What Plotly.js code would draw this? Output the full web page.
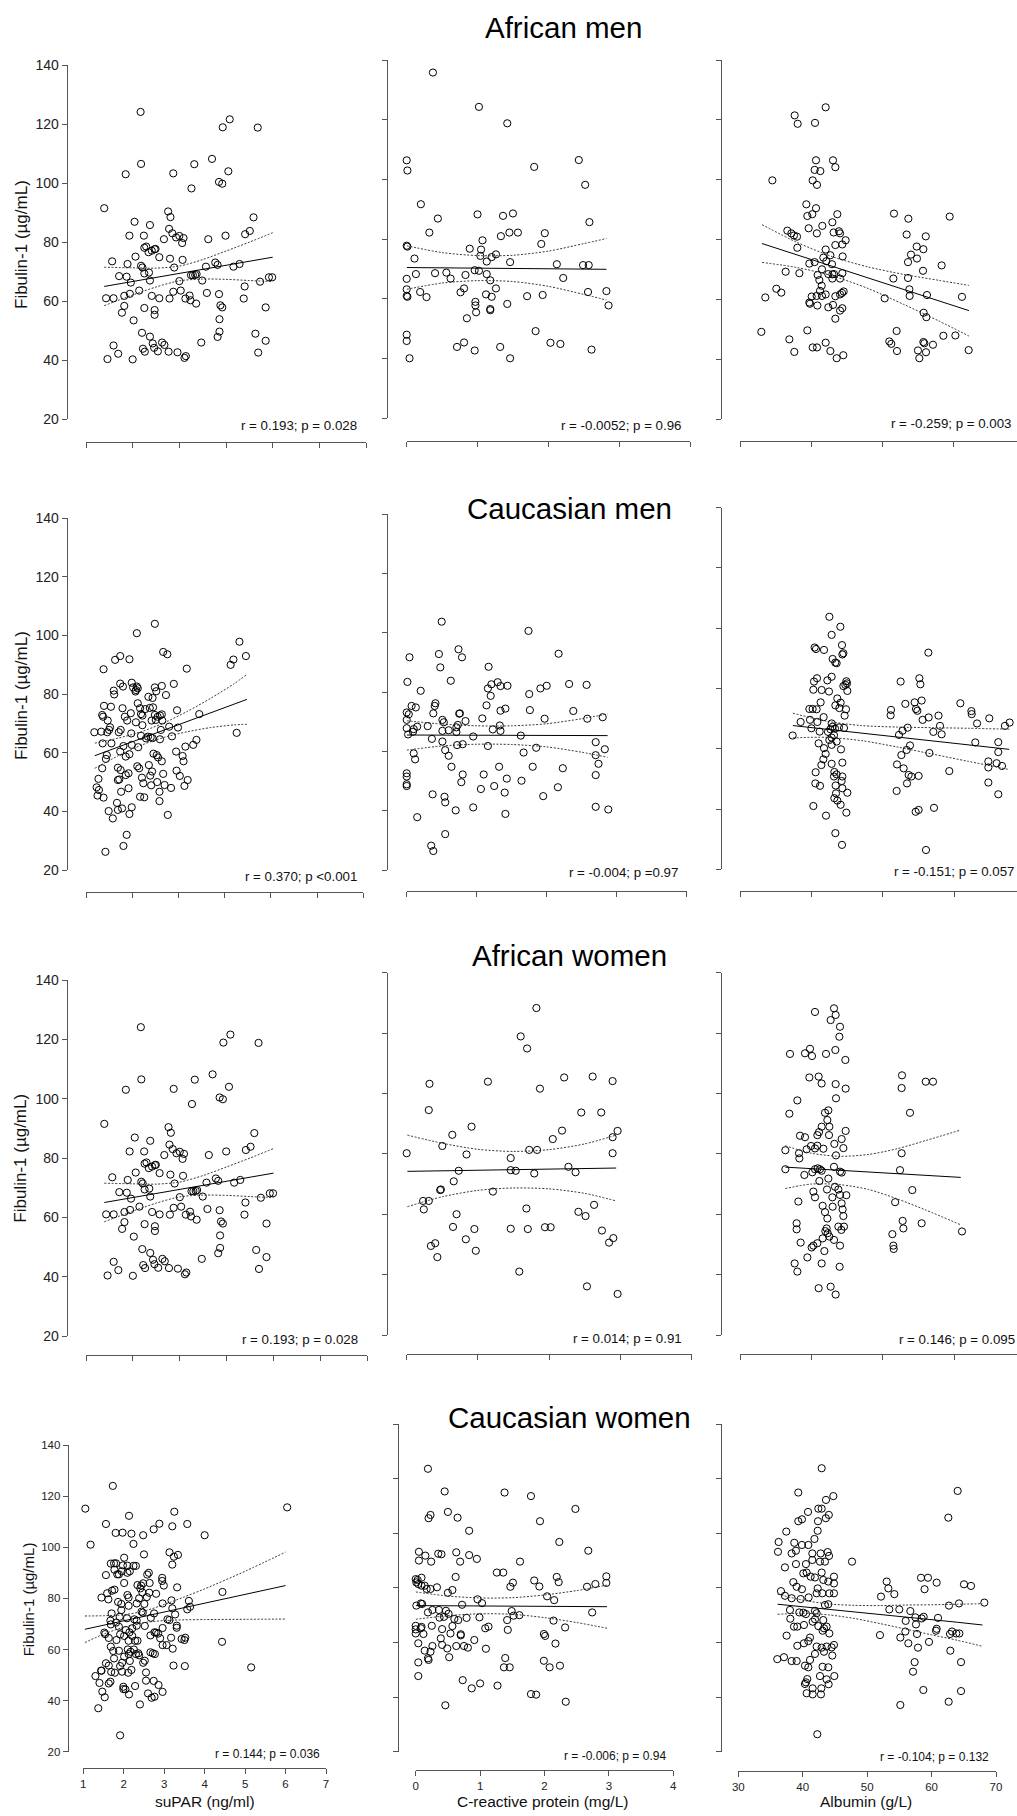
<!DOCTYPE html>
<html><head><meta charset="utf-8">
<script src="https://cdn.plot.ly/plotly-3.0.1.min.js"></script>
<style>html,body{margin:0;padding:0;background:#fff}#chart{width:1017px;height:1816px}</style>
</head><body><div id="chart"></div>
<script>
// ---------- data: [x, Fibulin-1] pairs ----------
const AM_suPAR = [[1.39,91.5],[2.17,124.1],[2.18,106.5],[1.85,103.0],[3.26,98.2],[3.32,106.4],[2.87,103.3],[3.70,108.2],[3.93,118.9],[4.08,121.6],[4.68,118.8],[4.05,104.0],[3.85,100.4],[3.92,99.8],[2.76,90.4],[2.81,88.5],[2.04,86.9],[2.37,85.8],[1.93,82.2],[2.24,82.2],[2.78,84.5],[2.85,83.0],[2.93,81.6],[3.00,82.1],[3.09,81.4],[3.06,79.7],[2.67,81.0],[3.62,81.0],[3.99,82.2],[4.59,88.4],[4.51,83.8],[4.41,82.7],[2.29,78.5],[2.34,76.6],[2.41,77.1],[2.47,77.6],[2.49,77.7],[2.25,78.1],[2.06,75.1],[2.57,74.9],[2.80,74.4],[3.07,74.0],[1.56,73.5],[1.89,72.6],[2.18,72.0],[2.21,71.4],[2.35,69.7],[2.89,71.4],[2.25,69.4],[3.77,73.1],[3.82,72.3],[3.57,71.7],[4.16,71.7],[4.29,72.6],[1.71,68.5],[1.87,68.3],[1.96,66.3],[2.37,67.0],[3.00,66.8],[3.25,68.8],[3.29,68.8],[3.34,68.9],[3.37,69.2],[3.49,67.0],[4.40,65.0],[4.73,66.6],[4.92,68.1],[4.99,68.1],[2.14,63.6],[1.94,62.5],[1.82,61.8],[1.43,61.0],[1.59,61.0],[2.41,61.8],[2.57,61.0],[2.79,60.9],[2.87,63.2],[3.03,63.6],[3.22,61.9],[3.13,60.9],[3.24,60.3],[3.36,59.2],[3.59,62.8],[3.85,62.4],[4.38,60.9],[1.82,58.4],[1.77,56.1],[2.25,57.7],[2.47,57.0],[2.47,55.4],[3.88,58.6],[3.92,57.9],[3.86,53.9],[4.85,57.9],[2.02,53.5],[3.86,49.7],[3.82,47.9],[4.63,49.0],[4.85,46.6],[2.20,49.3],[2.37,48.0],[2.43,45.7],[2.46,44.2],[2.63,46.0],[2.68,45.2],[3.47,46.0],[1.59,45.0],[1.69,42.2],[2.22,43.9],[2.26,42.9],[2.54,43.0],[2.77,42.9],[2.96,42.7],[3.14,41.4],[3.11,40.8],[1.46,40.4],[2.00,40.3],[4.69,42.6]];
const AM_CRP = [[0.37,135.8],[1.02,124.3],[1.42,118.8],[0.00,106.4],[0.01,103.0],[1.80,104.2],[2.43,106.5],[2.52,98.2],[0.20,91.7],[0.44,86.9],[1.00,88.3],[1.36,87.8],[1.50,88.6],[2.58,85.7],[0.32,82.2],[1.33,81.0],[1.45,82.2],[1.57,82.2],[1.95,82.0],[0.00,77.8],[0.01,77.5],[1.07,79.6],[1.90,78.4],[0.89,76.8],[1.05,76.5],[0.11,73.5],[1.04,74.4],[1.20,74.0],[1.26,74.9],[1.13,72.5],[1.46,72.3],[2.12,71.6],[2.49,71.3],[2.57,71.3],[0.13,68.3],[0.40,68.6],[0.56,68.8],[0.62,66.8],[0.83,68.0],[0.96,69.6],[1.02,69.4],[1.13,68.3],[1.18,66.2],[0.00,66.7],[2.21,67.0],[0.00,63.2],[0.00,61.0],[0.01,60.7],[0.19,62.3],[0.28,60.6],[0.76,62.2],[0.81,63.5],[1.26,63.5],[1.12,61.5],[1.20,60.7],[1.70,60.9],[1.92,61.3],[2.56,62.3],[2.82,62.6],[2.85,57.8],[1.42,58.3],[0.97,59.0],[0.97,57.8],[0.98,55.5],[1.18,56.6],[1.18,56.2],[0.85,53.5],[1.82,49.2],[0.00,48.0],[0.00,45.9],[0.04,40.1],[0.71,43.9],[0.81,45.4],[0.96,42.7],[1.32,43.9],[1.46,40.1],[2.03,45.3],[2.17,44.9],[2.61,43.0]];
const AM_Alb = [[42.05,124.2],[37.69,121.5],[38.11,118.7],[40.55,119.0],[34.55,99.8],[40.69,106.5],[43.08,106.5],[43.41,104.2],[40.50,103.3],[41.30,102.9],[40.22,99.8],[40.83,98.3],[39.33,91.8],[40.69,90.5],[39.47,87.9],[40.17,88.5],[43.69,88.5],[42.99,85.8],[41.58,84.6],[39.66,83.8],[40.81,82.1],[36.66,83.0],[37.22,82.1],[37.59,81.4],[38.02,81.0],[38.06,77.3],[43.17,82.4],[43.92,82.8],[44.07,82.1],[44.86,79.8],[44.39,78.4],[43.41,78.2],[42.05,76.7],[42.71,74.8],[41.72,74.0],[44.44,74.4],[39.75,72.0],[40.50,72.5],[42.14,72.8],[42.94,71.8],[36.42,69.3],[38.35,68.8],[41.53,70.1],[40.92,68.2],[42.42,68.5],[42.99,68.4],[43.22,68.5],[44.39,68.8],[44.07,67.0],[42.99,67.0],[41.16,66.5],[41.49,64.6],[35.11,63.6],[35.81,62.3],[41.25,62.9],[42.05,61.7],[41.53,61.2],[40.78,61.2],[40.08,61.0],[43.41,61.1],[44.35,62.2],[44.58,62.7],[44.07,61.7],[33.56,60.7],[39.75,59.0],[39.84,58.6],[40.88,58.0],[42.42,57.4],[43.08,58.2],[44.39,57.1],[44.07,56.3],[43.41,53.6],[33.00,49.2],[39.47,49.7],[36.94,46.7],[37.64,42.5],[40.22,44.0],[40.83,44.0],[42.05,45.6],[42.71,42.8],[43.60,40.4],[44.53,41.4],[51.66,88.7],[53.68,87.0],[59.49,87.7],[53.44,81.7],[56.13,81.1],[54.85,77.7],[55.79,76.8],[54.05,75.0],[54.89,73.7],[53.63,72.5],[58.36,71.4],[55.74,69.6],[51.57,67.0],[53.63,67.2],[53.82,63.4],[53.86,61.2],[56.30,61.5],[50.35,60.4],[61.22,60.9],[55.83,55.6],[56.21,54.1],[52.03,49.5],[58.60,47.9],[60.29,48.0],[51.00,46.0],[51.28,45.2],[52.08,42.8],[55.03,43.0],[55.79,45.8],[55.93,45.4],[57.14,44.9],[56.16,42.4],[55.22,40.4],[62.16,43.1]];
const CM_suPAR = [[2.49,104.0],[2.10,100.8],[4.32,97.9],[4.46,93.0],[4.19,91.8],[4.13,90.0],[1.74,93.0],[1.63,91.7],[1.94,91.9],[2.67,94.4],[2.76,93.6],[1.38,88.5],[3.18,88.7],[1.74,83.6],[1.80,82.6],[1.99,83.9],[2.02,82.3],[2.08,81.4],[2.12,82.0],[2.10,82.6],[2.07,80.9],[1.60,81.2],[1.61,79.9],[2.49,82.3],[2.52,81.0],[2.64,82.8],[2.90,83.5],[2.73,79.7],[2.35,79.1],[2.44,78.7],[2.12,76.9],[1.39,76.0],[1.54,75.7],[1.79,75.2],[2.17,75.2],[2.28,74.9],[2.38,75.3],[2.45,75.5],[2.97,74.5],[3.45,73.2],[1.97,73.5],[2.19,73.2],[2.22,72.7],[2.49,72.9],[2.55,72.3],[2.60,72.7],[2.64,73.1],[1.37,72.3],[1.35,72.9],[1.84,72.3],[1.89,71.0],[1.47,71.0],[2.08,70.4],[2.42,71.0],[2.51,71.2],[2.65,71.0],[2.22,69.4],[1.18,67.0],[1.33,67.2],[1.46,67.0],[1.50,67.8],[1.52,68.7],[1.71,67.0],[1.75,67.8],[1.98,66.6],[2.19,65.8],[2.30,64.9],[2.34,65.5],[2.40,65.3],[2.44,65.0],[2.60,64.6],[2.62,67.8],[2.80,68.9],[2.86,65.6],[2.99,68.6],[1.36,63.2],[1.55,63.2],[1.81,62.3],[1.99,62.7],[2.13,61.9],[3.15,62.1],[3.32,62.7],[3.39,64.4],[1.45,59.2],[1.43,57.9],[1.74,60.4],[1.86,58.7],[1.94,59.5],[2.46,59.7],[2.53,59.2],[2.56,58.4],[2.64,57.1],[2.95,60.4],[3.09,58.9],[3.11,57.1],[1.35,54.7],[1.69,54.9],[1.75,54.1],[2.11,55.4],[2.15,54.7],[2.21,51.5],[2.36,55.8],[2.43,53.6],[2.39,52.2],[2.67,52.8],[2.96,53.9],[3.03,52.1],[3.20,50.7],[3.13,48.7],[1.27,51.1],[1.69,50.7],[1.72,50.9],[1.92,53.0],[1.86,52.4],[2.24,49.6],[2.54,50.0],[2.70,49.0],[2.84,48.0],[2.41,48.9],[1.23,48.2],[1.28,47.3],[1.25,45.4],[1.38,44.7],[1.76,46.7],[1.92,47.9],[2.59,46.7],[2.17,45.0],[2.26,44.8],[2.59,43.5],[1.67,42.9],[1.49,40.1],[1.58,37.6],[1.69,40.5],[1.78,41.0],[1.94,39.1],[1.99,41.4],[2.77,38.8],[1.88,32.0],[1.81,28.2],[1.42,26.2],[4.26,66.8]];
const CM_CRP = [[0.50,103.7],[1.74,100.6],[0.04,91.7],[0.46,92.8],[0.74,94.4],[0.79,91.7],[0.48,88.3],[1.17,88.5],[2.17,92.9],[0.01,83.4],[0.63,83.8],[0.20,80.4],[1.16,81.2],[1.21,82.6],[1.30,83.3],[1.34,82.0],[1.44,82.1],[1.20,78.7],[1.75,79.3],[1.91,81.2],[2.00,82.1],[2.32,82.7],[2.57,82.4],[0.07,75.3],[0.13,74.8],[0.00,73.1],[0.03,72.5],[0.00,70.6],[0.00,67.8],[0.02,65.7],[0.10,67.5],[0.15,68.3],[0.09,66.6],[0.41,76.2],[0.40,75.3],[0.38,72.8],[0.75,72.7],[0.76,72.8],[1.14,75.5],[1.34,73.7],[1.41,74.4],[1.76,73.9],[2.38,73.6],[0.30,68.5],[0.51,70.6],[0.53,69.8],[0.51,66.9],[0.60,67.1],[0.71,68.1],[0.73,68.9],[0.71,66.5],[0.84,70.2],[1.08,71.1],[1.23,67.4],[1.33,68.7],[1.34,66.9],[1.97,71.0],[2.58,71.0],[2.80,71.5],[0.36,64.2],[0.51,63.3],[0.95,65.0],[1.63,65.3],[0.72,62.1],[0.80,62.4],[1.16,61.8],[1.85,61.2],[0.55,60.4],[0.10,59.3],[1.67,59.6],[2.70,63.1],[0.12,57.3],[0.60,58.5],[2.70,58.7],[2.83,60.7],[2.74,55.8],[0.64,54.8],[1.32,54.8],[1.80,54.8],[2.23,54.3],[0.00,52.6],[0.00,51.5],[0.00,48.9],[0.00,48.3],[0.80,52.2],[0.78,49.6],[1.10,52.2],[1.43,50.8],[1.64,50.1],[1.25,48.3],[1.40,46.1],[1.06,47.3],[2.16,47.9],[1.95,44.9],[2.70,52.0],[0.37,45.5],[0.54,44.7],[0.55,42.8],[0.70,40.1],[0.95,41.1],[1.41,38.9],[2.70,41.3],[2.88,40.4],[0.15,37.8],[0.55,32.1],[0.35,28.2],[0.38,26.4]];
const CM_Alb = [[42.51,103.8],[44.05,100.5],[42.83,97.8],[44.28,94.4],[40.45,93.6],[40.64,93.1],[41.76,92.8],[44.47,91.7],[44.33,91.3],[42.97,89.8],[43.34,88.6],[43.53,88.4],[40.78,83.4],[40.36,82.3],[40.27,79.6],[41.43,79.5],[42.23,82.7],[42.83,83.9],[42.46,79.0],[44.89,82.4],[44.98,81.7],[44.75,81.2],[44.47,80.8],[45.03,79.2],[43.62,76.7],[44.09,75.3],[44.84,73.1],[43.35,74.4],[43.91,73.5],[41.29,75.4],[39.71,73.2],[40.17,73.2],[40.73,73.1],[41.71,70.5],[44.65,71.0],[38.49,68.9],[39.80,69.6],[40.83,68.9],[40.00,66.8],[41.15,65.7],[42.83,68.4],[42.97,67.3],[43.30,66.7],[42.65,66.5],[43.86,67.1],[44.56,66.9],[42.32,65.6],[43.16,64.5],[42.83,63.7],[42.51,62.9],[43.53,62.4],[37.37,64.4],[41.01,61.8],[41.76,60.2],[41.99,58.3],[44.14,59.8],[42.83,61.3],[41.67,56.5],[41.39,54.6],[42.83,55.0],[44.33,55.4],[40.59,52.2],[43.21,52.3],[43.53,51.5],[43.16,50.8],[44.33,50.8],[44.23,49.3],[40.55,48.5],[41.20,47.7],[43.39,47.8],[44.33,46.9],[45.03,45.4],[43.44,45.2],[43.21,43.6],[43.63,42.8],[44.09,41.4],[40.27,41.0],[42.04,37.8],[44.89,38.8],[43.35,32.0],[44.28,28.1],[56.37,91.9],[52.49,82.3],[55.11,83.4],[55.25,81.4],[55.43,76.0],[54.45,75.4],[53.15,74.9],[54.64,73.2],[54.83,72.6],[51.14,72.9],[51.09,71.1],[60.85,75.1],[62.39,72.5],[62.44,71.5],[56.41,70.4],[55.57,69.6],[57.79,71.0],[63.19,68.4],[64.90,70.1],[67.75,68.7],[67.09,67.6],[53.47,67.0],[52.76,66.0],[52.26,64.6],[58.00,67.6],[57.07,65.6],[58.23,64.8],[53.80,61.1],[53.33,59.6],[56.51,58.6],[52.59,57.9],[62.94,62.1],[66.16,62.2],[66.16,58.9],[64.77,55.8],[65.93,55.2],[64.77,53.8],[66.68,54.3],[51.98,54.8],[52.91,53.5],[53.61,51.3],[53.99,50.8],[55.01,51.0],[59.30,52.6],[53.38,48.5],[51.93,46.0],[64.77,48.8],[66.16,44.9],[54.59,39.1],[55.01,39.7],[57.16,40.4],[56.04,26.4]];
// the African women suPAR panel repeats the African men suPAR panel in the source figure
const AW_suPAR = AM_suPAR;
const AW_CRP = [[1.82,128.3],[1.60,118.9],[1.69,114.9],[0.32,103.2],[1.14,103.9],[1.87,101.6],[2.21,105.3],[2.61,105.6],[2.89,104.1],[0.31,94.5],[2.45,93.7],[2.73,93.7],[0.91,89.0],[0.64,86.3],[0.50,82.6],[2.05,84.9],[2.18,87.7],[2.89,85.5],[2.96,87.6],[0.00,80.2],[0.84,79.8],[1.72,81.3],[1.83,81.3],[2.89,80.2],[1.46,78.6],[0.73,74.4],[1.46,74.6],[1.53,74.4],[1.79,73.5],[2.27,75.7],[2.37,73.9],[0.66,70.9],[0.48,68.2],[0.47,68.0],[1.21,67.5],[0.23,64.4],[0.31,64.4],[0.24,61.6],[0.70,60.0],[1.68,61.9],[2.41,60.8],[2.51,59.4],[2.63,63.1],[0.65,55.8],[0.95,55.1],[1.46,55.2],[1.70,55.1],[1.94,55.7],[2.02,55.7],[2.74,54.6],[0.83,51.7],[0.34,49.5],[0.40,50.4],[0.43,45.8],[0.97,47.9],[2.84,50.6],[2.90,52.1],[1.58,41.0],[2.53,36.1],[2.96,33.6]];
const AW_Alb = [[43.16,128.2],[43.39,126.0],[42.69,124.3],[40.50,127.0],[44.00,122.1],[43.91,118.8],[37.00,113.1],[39.10,113.3],[39.80,114.8],[40.08,112.4],[42.04,113.1],[43.35,114.4],[44.75,111.1],[39.71,105.3],[41.01,105.6],[41.43,103.3],[43.39,103.1],[44.79,101.6],[43.44,98.4],[38.03,97.7],[36.91,93.3],[41.90,93.6],[42.37,94.4],[42.23,91.2],[41.43,89.0],[42.51,89.0],[40.83,86.2],[41.06,87.2],[42.46,86.2],[44.79,87.6],[44.23,84.9],[38.40,86.0],[39.10,85.5],[43.21,83.3],[44.47,81.9],[36.35,81.2],[38.26,80.2],[38.31,78.5],[39.33,81.5],[39.94,82.6],[40.50,81.8],[40.83,82.7],[41.67,81.7],[43.44,79.5],[36.35,74.9],[39.01,73.0],[40.13,73.9],[40.50,74.9],[40.87,75.2],[41.20,74.9],[41.43,74.4],[43.16,75.7],[44.00,74.1],[44.23,73.8],[42.37,71.8],[41.11,71.0],[43.30,69.1],[42.18,68.2],[40.27,67.5],[40.50,65.6],[43.77,68.2],[44.00,66.4],[44.89,66.3],[42.93,65.6],[38.17,64.2],[41.57,62.8],[42.97,62.5],[44.23,63.6],[44.37,61.6],[44.47,59.4],[41.90,60.7],[42.23,58.6],[37.93,57.0],[37.93,55.0],[42.13,55.3],[41.95,54.4],[42.28,53.7],[43.77,55.9],[44.19,54.8],[44.56,55.9],[42.51,52.6],[41.57,52.0],[43.16,51.5],[38.49,50.6],[40.03,49.0],[40.27,49.6],[40.83,50.4],[44.00,49.6],[41.81,47.8],[39.43,45.7],[37.65,43.7],[38.03,41.0],[41.43,43.7],[43.95,42.6],[41.01,35.5],[42.69,36.0],[43.39,33.4],[52.68,106.0],[52.63,101.8],[56.00,103.9],[57.02,103.9],[53.80,93.6],[52.63,80.2],[52.40,74.6],[54.12,68.0],[51.72,64.0],[52.77,57.8],[52.87,55.3],[55.43,57.0],[51.33,53.4],[51.47,49.6],[51.52,48.5],[61.08,54.3]];
const CW_suPAR = [[1.73,124.0],[1.05,115.1],[6.04,115.6],[1.18,101.0],[2.13,112.3],[3.25,113.9],[1.56,109.1],[1.80,105.6],[1.97,105.7],[2.19,105.3],[2.48,104.7],[2.74,107.0],[2.88,109.2],[3.20,108.2],[3.57,109.1],[4.00,104.7],[2.24,101.3],[2.50,97.2],[2.01,95.9],[3.13,98.0],[3.24,96.3],[3.34,97.0],[3.20,93.2],[1.68,93.6],[1.76,93.7],[1.81,93.7],[1.98,92.9],[2.09,92.8],[2.24,92.7],[2.30,92.7],[1.77,91.2],[1.95,90.6],[2.09,90.0],[2.15,90.6],[1.56,89.1],[1.84,89.4],[1.88,89.4],[2.58,89.3],[2.62,90.0],[2.95,88.0],[2.95,86.8],[2.99,85.0],[2.01,86.0],[2.64,86.0],[2.09,81.3],[1.71,83.0],[1.77,83.4],[1.59,82.0],[2.34,85.2],[2.43,85.0],[2.48,85.9],[2.41,83.9],[2.46,82.3],[2.63,82.2],[2.80,81.8],[3.32,84.3],[1.45,80.3],[1.62,79.6],[2.12,80.3],[2.38,80.0],[2.57,80.5],[3.18,79.2],[3.61,79.0],[1.86,78.6],[1.94,77.8],[2.12,77.1],[2.32,78.0],[2.51,77.8],[2.96,78.0],[3.64,76.7],[3.57,75.7],[3.20,76.1],[4.44,82.5],[1.94,75.4],[2.44,74.8],[2.47,74.4],[2.75,74.1],[1.70,74.1],[3.27,73.7],[1.90,72.8],[2.08,72.2],[2.67,72.4],[1.67,71.3],[3.08,71.8],[3.13,71.5],[2.26,71.8],[2.32,71.3],[1.81,70.5],[1.68,69.8],[1.88,68.9],[2.32,69.3],[2.52,69.2],[2.96,68.4],[3.31,69.3],[3.31,68.5],[2.21,68.3],[2.05,67.6],[1.52,66.6],[1.54,66.0],[1.63,64.5],[1.91,65.9],[2.01,65.3],[2.14,66.7],[2.21,65.3],[2.66,65.5],[2.76,66.7],[2.80,66.6],[2.85,66.2],[2.90,64.4],[2.12,63.4],[2.28,63.4],[2.34,63.4],[1.82,63.7],[3.17,64.6],[3.43,64.1],[3.50,63.7],[3.52,64.6],[2.96,61.7],[3.06,61.7],[3.21,60.3],[1.68,61.1],[2.10,60.0],[2.17,59.1],[2.25,60.0],[2.30,58.2],[2.36,58.5],[2.38,57.7],[2.66,58.9],[2.72,58.5],[2.77,58.2],[1.88,59.5],[1.74,59.4],[2.01,57.2],[2.12,58.2],[2.15,55.5],[1.76,56.5],[1.56,54.6],[1.63,53.7],[1.91,53.5],[1.96,54.8],[2.48,54.8],[2.52,55.6],[3.51,53.5],[3.23,53.7],[5.15,53.0],[1.45,51.7],[1.69,51.2],[1.78,50.9],[1.96,51.3],[2.11,50.9],[2.19,52.0],[2.55,51.0],[1.30,49.6],[1.44,51.7],[4.43,63.0],[1.40,46.9],[1.63,46.7],[1.67,47.4],[2.55,47.8],[2.74,47.7],[2.86,46.1],[1.99,45.4],[2.04,44.4],[1.99,44.5],[2.28,45.7],[2.13,42.4],[2.60,42.8],[2.96,43.4],[1.47,43.5],[1.53,41.3],[2.69,41.1],[2.76,41.5],[2.40,38.5],[1.37,37.0],[1.91,26.4]];
const CW_CRP = [[0.19,123.6],[0.45,115.3],[1.38,114.9],[1.79,113.6],[2.48,108.9],[0.50,107.8],[0.23,106.7],[0.20,105.5],[0.65,105.7],[1.93,104.4],[0.83,100.9],[2.23,96.8],[0.05,93.2],[0.15,91.8],[0.35,92.5],[0.40,92.3],[0.63,93.0],[0.83,92.0],[0.95,90.6],[0.05,90.0],[0.24,89.6],[0.69,89.6],[1.62,89.6],[2.68,93.6],[1.26,85.6],[1.36,85.6],[0.62,84.0],[0.00,83.2],[0.03,82.9],[0.09,83.7],[0.01,82.0],[0.04,81.4],[0.09,80.8],[0.14,80.8],[0.23,79.6],[0.17,79.6],[0.33,80.2],[0.57,79.2],[0.50,78.2],[1.51,81.9],[1.47,80.4],[1.84,82.7],[1.92,80.5],[2.19,84.0],[2.22,82.1],[2.66,80.4],[2.79,81.4],[2.96,84.2],[2.96,81.8],[2.04,76.9],[2.15,75.5],[0.96,75.8],[1.03,74.4],[0.72,73.8],[0.01,73.5],[0.08,74.3],[0.10,74.1],[0.26,71.9],[0.19,71.0],[0.36,71.9],[0.47,71.6],[0.51,70.5],[0.44,69.4],[0.37,69.1],[0.60,68.6],[0.66,68.2],[0.79,69.0],[0.99,69.2],[1.49,71.5],[1.52,69.8],[1.61,70.0],[1.42,68.2],[2.14,68.0],[2.74,71.0],[2.32,65.5],[0.25,66.1],[0.00,66.1],[0.00,64.8],[0.00,63.3],[0.08,65.2],[0.09,65.7],[0.12,63.1],[0.41,64.9],[0.54,63.3],[0.70,62.6],[0.57,66.0],[1.08,65.2],[1.13,65.8],[1.43,64.6],[1.99,63.1],[2.01,62.4],[0.39,61.5],[0.41,59.1],[0.49,57.8],[0.63,58.7],[0.70,63.0],[0.75,58.7],[0.81,58.1],[0.91,60.9],[1.09,57.7],[2.17,59.6],[0.04,59.7],[0.14,57.0],[0.26,58.7],[0.23,56.6],[0.19,54.2],[0.20,53.6],[0.52,54.6],[0.04,52.7],[0.04,47.7],[1.39,54.3],[1.37,50.9],[1.46,50.9],[1.99,53.3],[2.08,50.9],[2.24,51.5],[0.73,46.2],[0.87,43.2],[1.00,45.0],[1.27,44.2],[1.79,41.1],[1.87,40.9],[2.33,38.3],[0.46,37.0]];
const CW_Alb = [[42.94,123.8],[39.31,114.9],[44.75,113.6],[43.61,112.2],[42.42,109.0],[42.94,109.0],[40.82,107.8],[44.05,106.7],[43.58,105.5],[39.31,104.4],[39.88,105.1],[42.37,104.4],[42.32,100.9],[37.45,100.6],[41.82,97.9],[36.26,96.8],[38.69,96.5],[36.16,93.2],[38.28,92.6],[38.95,93.6],[39.88,95.7],[40.87,95.7],[41.49,92.6],[42.78,92.6],[44.08,91.7],[43.87,93.1],[43.45,89.6],[42.68,89.6],[41.49,90.2],[37.24,87.5],[38.95,88.7],[40.50,88.7],[40.09,85.3],[40.61,85.6],[41.23,84.1],[41.90,83.8],[42.94,85.6],[43.19,82.9],[43.97,82.3],[44.85,84.1],[44.85,81.6],[38.54,82.1],[39.06,80.4],[39.88,79.5],[36.62,78.8],[37.24,77.1],[38.28,76.2],[39.68,75.9],[40.92,76.5],[42.32,79.8],[42.16,78.0],[43.04,78.0],[44.13,78.0],[44.85,78.0],[43.97,74.0],[43.45,73.7],[38.02,71.9],[39.47,71.0],[40.09,70.9],[40.50,70.4],[41.90,71.6],[42.16,70.7],[38.07,68.7],[38.64,65.8],[39.16,65.8],[40.19,66.4],[41.54,67.6],[41.90,68.5],[42.42,66.0],[43.19,68.2],[43.30,65.2],[43.71,65.8],[44.13,63.3],[43.09,64.3],[37.50,62.5],[41.13,61.8],[40.87,60.5],[40.19,59.7],[39.16,58.8],[42.16,58.5],[42.94,58.1],[43.71,58.5],[44.49,58.2],[44.85,59.1],[41.90,55.8],[43.30,56.6],[44.59,55.2],[36.05,53.9],[37.09,54.6],[38.28,53.2],[39.06,53.2],[40.35,51.5],[40.87,50.9],[41.13,53.6],[43.09,51.1],[43.97,50.9],[40.71,46.6],[40.50,45.4],[42.68,47.7],[43.71,46.5],[44.90,47.7],[40.35,44.8],[41.54,43.2],[42.89,43.2],[44.02,44.7],[40.61,41.4],[41.54,41.0],[42.83,41.0],[42.26,26.4],[47.65,89.6],[53.03,82.3],[53.29,79.8],[54.22,77.7],[52.15,76.8],[58.36,83.7],[59.44,83.7],[60.79,81.9],[58.91,79.5],[65.03,81.3],[66.12,80.7],[53.44,72.1],[54.99,72.1],[56.70,71.5],[62.70,73.5],[64.26,74.3],[68.19,74.6],[55.98,67.9],[57.48,69.2],[57.58,66.6],[58.46,68.8],[58.77,69.4],[61.00,69.0],[51.99,62.7],[55.15,61.8],[55.93,64.0],[57.74,63.1],[56.39,59.7],[57.89,58.1],[59.60,60.2],[60.69,64.3],[60.79,65.0],[62.86,63.1],[63.17,64.0],[63.84,63.3],[64.31,63.3],[62.91,57.0],[64.57,52.8],[57.37,52.8],[57.12,49.3],[58.72,42.6],[62.65,38.3],[64.57,42.2],[55.15,37.1],[62.60,105.7],[64.05,115.5]];

// ---------- regression line and 95% band, read at a few x values: [x, fit, upper, lower] ----------
const AM_suPAR_band = [[1.39,65.0,71.5,58.5],[2.0,66.7,71.3,62.1],[2.5,68.0,71.2,64.8],[3.0,69.4,71.9,66.9],[3.5,70.8,74.1,67.5],[4.0,72.2,77.0,67.4],[4.5,73.5,80.0,67.0],[5.0,74.9,83.2,66.6]];
const AM_CRP_band = [[0.0,70.5,77.8,63.2],[0.5,70.4,75.5,65.3],[1.0,70.3,74.5,66.1],[1.5,70.2,74.6,65.8],[2.0,70.1,76.0,64.2],[2.5,70.0,78.5,61.5],[2.82,69.9,80.2,59.6]];
const AM_Alb_band = [[33.1,78.7,85.0,72.4],[38,74.9,79.1,70.7],[43,71.1,74.3,67.9],[48,67.3,70.9,63.7],[53,63.4,68.4,58.4],[58,59.6,66.4,52.8],[62.2,56.3,64.7,47.8]];
const CM_suPAR_band = [[1.19,59.0,63.3,54.7],[1.7,62.0,65.0,59.0],[2.2,64.9,67.2,62.6],[2.7,67.8,70.3,65.3],[3.2,70.7,74.2,67.2],[3.7,73.6,78.6,68.6],[4.2,76.5,83.5,69.5],[4.48,78.2,86.7,69.7]];
const CM_CRP_band = [[0.0,65.5,70.3,60.4],[0.5,65.5,69.2,61.8],[1.0,65.4,68.6,62.4],[1.5,65.4,68.6,62.3],[2.0,65.4,69.3,61.5],[2.5,65.3,71.0,59.7],[2.87,65.3,72.6,58.0]];
const CM_Alb_band = [[37.4,67.7,71.8,63.6],[42,66.5,69.2,63.8],[47,65.2,67.7,62.7],[52,63.9,67.2,60.6],[57,62.6,67.0,58.2],[62,61.3,66.8,55.8],[67.7,59.8,66.5,53.1]];
const AW_suPAR_band = AM_suPAR_band;
const AW_CRP_band = [[0.01,74.2,86.2,62.5],[0.5,74.4,83.5,65.8],[1.0,74.6,81.5,67.9],[1.5,74.8,80.8,68.7],[2.0,74.9,81.4,68.4],[2.5,75.1,83.3,66.9],[2.94,75.3,86.2,64.4]];
const AW_Alb_band = [[36.35,75.6,82.7,68.5],[40,75.1,80.2,70.0],[44,74.5,79.2,69.8],[48,74.0,79.8,68.2],[52,73.4,81.7,65.1],[56,72.9,84.4,61.4],[60.9,72.2,87.9,56.5]];
const CW_suPAR_band = [[1.04,67.9,73.1,62.7],[1.5,69.5,73.2,66.0],[2.0,71.2,73.6,68.7],[2.5,72.9,75.0,70.5],[3.0,74.7,77.6,71.3],[3.5,76.4,80.6,71.6],[4.0,78.1,83.7,71.7],[5.0,81.6,90.6,71.8],[6.0,85.0,98.1,71.9]];
const CW_CRP_band = [[0,73.5,78.5,68.5],[0.5,73.4,77.0,69.8],[1.0,73.4,76.3,70.5],[1.5,73.3,76.4,70.3],[2.0,73.2,77.4,69.1],[2.5,73.2,79.0,67.3],[2.97,73.1,81.0,65.2]];
const CW_Alb_band = [[36.1,74.0,77.7,70.3],[40,73.1,75.5,70.7],[44,72.1,74.1,70.1],[48,71.2,73.6,68.8],[52,70.2,73.5,66.9],[56,69.3,73.7,64.9],[60,68.3,73.8,62.8],[64,67.4,74.0,60.8],[67.9,66.4,74.2,58.6]];

// ---------- text ----------
const groupTitles = ['African men','Caucasian men','African women','Caucasian women'];
const xTitles = ['suPAR (ng/ml)','C-reactive protein (mg/L)','Albumin (g/L)'];
const yTitle = 'Fibulin-1 (µg/mL)';
const statText = [
  ['r = 0.193; p = 0.028','r = -0.0052; p = 0.96','r = -0.259; p = 0.003'],
  ['r = 0.370; p <0.001','r = -0.004; p =0.97','r = -0.151; p = 0.057'],
  ['r = 0.193; p = 0.028','r = 0.014; p = 0.91','r = 0.146; p = 0.095'],
  ['r = 0.144; p = 0.036','r = -0.006; p = 0.94','r = -0.104; p = 0.132']
];
const yTicks = [20,40,60,80,100,120,140];
const xTicks = [[1,2,3,4,5,6,7],[0,1,2,3,4],[30,40,50,60,70]];

const points = [[AM_suPAR,AM_CRP,AM_Alb],[CM_suPAR,CM_CRP,CM_Alb],[AW_suPAR,AW_CRP,AW_Alb],[CW_suPAR,CW_CRP,CW_Alb]];
const bands  = [[AM_suPAR_band,AM_CRP_band,AM_Alb_band],[CM_suPAR_band,CM_CRP_band,CM_Alb_band],[AW_suPAR_band,AW_CRP_band,AW_Alb_band],[CW_suPAR_band,CW_CRP_band,CW_Alb_band]];

// ---------- layout geometry (pixels) ----------
const W = 1017, H = 1816;
const fx = p => p / W, fy = p => 1 - p / H;
const geom = [
  [{x0:86,x1:366,xr:[1,7],yA:66.7,y20:419.3,y140:65,xA:441.5},
   {x0:406.7,x1:690,xr:[0,4],yA:387.3,y20:418.3,y140:60,xA:440.5},
   {x0:740,x1:1017,xr:[30,68.96],yA:720.7,y20:419.3,y140:60,xA:440.7}],
  [{x0:86,x1:363.3,xr:[1,7],yA:66.7,y20:870,y140:518.3,xA:891.7},
   {x0:406.7,x1:686.7,xr:[0,4],yA:387.3,y20:870,y140:514,xA:890.7},
   {x0:740,x1:1017,xr:[30,68.78],yA:720.7,y20:869.3,y140:507.7,xA:890.7}],
  [{x0:86,x1:367.3,xr:[1,7],yA:66.7,y20:1336,y140:980,xA:1355},
   {x0:406.7,x1:691.7,xr:[0,4],yA:387.3,y20:1335,y140:972.7,xA:1354},
   {x0:740,x1:1017,xr:[30,68.78],yA:720.7,y20:1335,y140:972.7,xA:1354}],
  [{x0:83.3,x1:326,xr:[1,7],yA:67.7,y20:1751.7,y140:1445,xA:1768.3},
   {x0:415.7,x1:673.3,xr:[0,4],yA:397.7,y20:1751.7,y140:1424,xA:1770},
   {x0:738.3,x1:996,xr:[30,70],yA:720.7,y20:1751.7,y140:1424,xA:1770.7}]
];
const statPos = [
  [[358.3,425],[683.3,425],[1013.3,423.5]],
  [[358.3,876.7],[679.3,872.7],[1016,871.7]],
  [[359.3,1339.3],[683.3,1338.3],[1016,1339.3]],
  [[320.7,1754],[667.3,1756],[990,1757.3]]
];
const titlePos = [[563.5,27],[569.5,508],[569.7,955],[569.2,1417]];
const yTitlePos = [[21,245,17],[21,696,17],[21,1158.7,17],[28.3,1599,15]];
const xTitlePos = [[204.7,1801.7],[542.5,1801.7],[866,1801.7]];

const FONT = 'Liberation Sans, Arial, Helvetica, sans-serif';
const AXC = '#555';
const traces = [];
const layout = {
  width: W, height: H, margin: {l:0,r:0,t:0,b:0},
  paper_bgcolor: '#fff', plot_bgcolor: 'rgba(0,0,0,0)',
  showlegend: false, font: {family: FONT, color: '#111'},
  annotations: []
};

let n = 0;
for (let r = 0; r < 4; r++) {
  for (let c = 0; c < 3; c++) {
    n++;
    const g = geom[r][c];
    const sx = n === 1 ? '' : String(n);
    const pts = points[r][c], bd = bands[r][c];
    const xref = 'x' + sx, yref = 'y' + sx;
    traces.push({type:'scatter', mode:'markers', x: pts.map(p=>p[0]), y: pts.map(p=>p[1]),
      xaxis: xref, yaxis: yref, cliponaxis: false, hoverinfo: 'skip',
      marker: {symbol:'circle-open', size: 7.2, color:'#000', line:{width:1, color:'#000'}}});
    traces.push({type:'scatter', mode:'lines', x: bd.map(b=>b[0]), y: bd.map(b=>b[1]),
      xaxis: xref, yaxis: yref, line:{color:'#000', width:1}, hoverinfo:'skip'});
    traces.push({type:'scatter', mode:'lines', x: bd.map(b=>b[0]), y: bd.map(b=>b[2]),
      xaxis: xref, yaxis: yref, line:{color:'#222', width:0.9, dash:'2px,1.6px', shape:'spline', smoothing:0.8}, hoverinfo:'skip'});
    traces.push({type:'scatter', mode:'lines', x: bd.map(b=>b[0]), y: bd.map(b=>b[3]),
      xaxis: xref, yaxis: yref, line:{color:'#222', width:0.9, dash:'2px,1.6px', shape:'spline', smoothing:0.8}, hoverinfo:'skip'});

    layout['xaxis' + sx] = {
      domain: [fx(g.x0), fx(g.x1)], range: g.xr, anchor: 'free', position: fy(g.xA),
      showline: true, linecolor: AXC, linewidth: 1, ticks: 'outside', ticklen: 5, tickcolor: AXC, tickwidth: 1,
      tickmode: 'array', tickvals: xTicks[c], showticklabels: r === 3,
      tickfont: {family: FONT, size: 11.5, color: '#222'},
      showgrid: false, zeroline: false, fixedrange: true
    };
    layout['yaxis' + sx] = {
      domain: [fy(g.y20), fy(g.y140)], range: [20, 140], anchor: 'free', position: fx(g.yA),
      showline: true, linecolor: AXC, linewidth: 1, ticks: 'outside', ticklen: 5, tickcolor: AXC, tickwidth: 1,
      tickmode: 'array', tickvals: yTicks, showticklabels: c === 0,
      tickfont: {family: FONT, size: r === 3 ? 11.5 : 14, color: '#222'},
      showgrid: false, zeroline: false, fixedrange: true
    };
    const sp = statPos[r][c];
    layout.annotations.push({text: statText[r][c], xref:'paper', yref:'paper', x: fx(sp[0]), y: fy(sp[1]),
      xanchor:'right', yanchor:'middle', showarrow:false, borderpad:0,
      font:{family: FONT, size: r === 3 ? 12 : 13.3, color:'#111'}});
  }
  const tp = titlePos[r];
  layout.annotations.push({text: groupTitles[r], xref:'paper', yref:'paper', x: fx(tp[0]), y: fy(tp[1]),
    xanchor:'center', yanchor:'middle', showarrow:false, font:{family: FONT, size: 29.5, color:'#000'}});
  const yp = yTitlePos[r];
  layout.annotations.push({text: yTitle, xref:'paper', yref:'paper', x: fx(yp[0]), y: fy(yp[1]),
    xanchor:'center', yanchor:'middle', textangle:-90, showarrow:false, font:{family: FONT, size: yp[2], color:'#111'}});
}
for (let c = 0; c < 3; c++) {
  const xp = xTitlePos[c];
  layout.annotations.push({text: xTitles[c], xref:'paper', yref:'paper', x: fx(xp[0]), y: fy(xp[1]),
    xanchor:'center', yanchor:'middle', showarrow:false, font:{family: FONT, size: 15.5, color:'#111'}});
}

Plotly.newPlot('chart', traces, layout, {staticPlot: true, displayModeBar: false});
</script>
</body></html>
